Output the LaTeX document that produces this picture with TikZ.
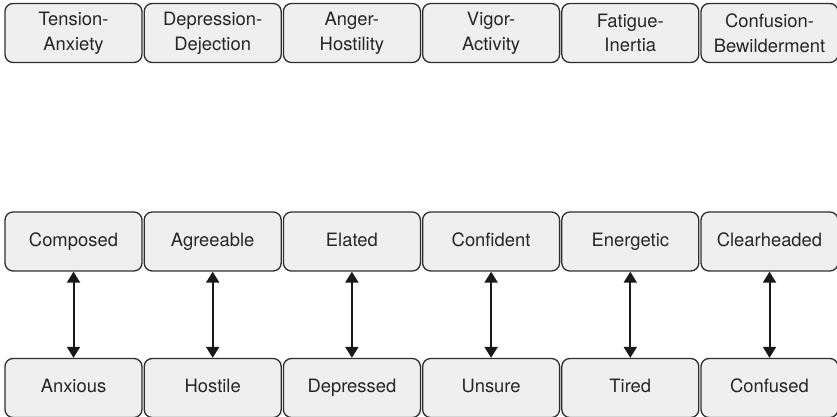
\documentclass[tikz,border=0pt]{standalone}
\usepackage{fontspec}
\setmainfont{TeX Gyre Heros}
\usetikzlibrary{positioning,arrows.meta}
\definecolor{boxfill}{HTML}{EEEFEE}
\definecolor{boxline}{HTML}{2E2E2E}
\begin{document}
\begin{tikzpicture}[x=0.5pt,y=-0.5pt,
    moodbox/.style={draw=boxline,fill=boxfill,rounded corners=4pt,line width=0.65pt,
      minimum width=68.5pt,minimum height=29.5pt,inner sep=0pt,align=center,
      text=black!85,font=\fontsize{9.2}{12.3}\selectfont},
    moodword/.style={moodbox,text height=6.8pt,text depth=2pt},
    pairline/.style={line width=1pt,black!90,{Triangle[length=5.5pt,width=6.5pt]}-{Triangle[length=5.5pt,width=6.5pt]}}]
    \useasboundingbox (0,0) rectangle (837,417);
    % scales on top, opposite moods below
    \foreach \scl/\pl/\mi [count=\i] in {{Tension-\\Anxiety}/Composed/Anxious,
        {Depression-\\Dejection}/Agreeable/Hostile,
        {Anger-\\Hostility}/Elated/Depressed,
        {Vigor-\\Activity}/Confident/Unsure,
        {Fatigue-\\Inertia}/Energetic/Tired,
        {Confusion-\\Bewilderment}/Clearheaded/Confused} {
      \node[moodbox] (t\i) at ({73.5+139.2*(\i-1)},33) {\scl};
      \node[moodword] (p\i) at ({73.5+139.2*(\i-1)},241.5) {\pl};
      \node[moodword] (n\i) at ({73.5+139.2*(\i-1)},388) {\mi};
      \draw[pairline] (p\i) -- (n\i);
    }
\end{tikzpicture}
\end{document}
